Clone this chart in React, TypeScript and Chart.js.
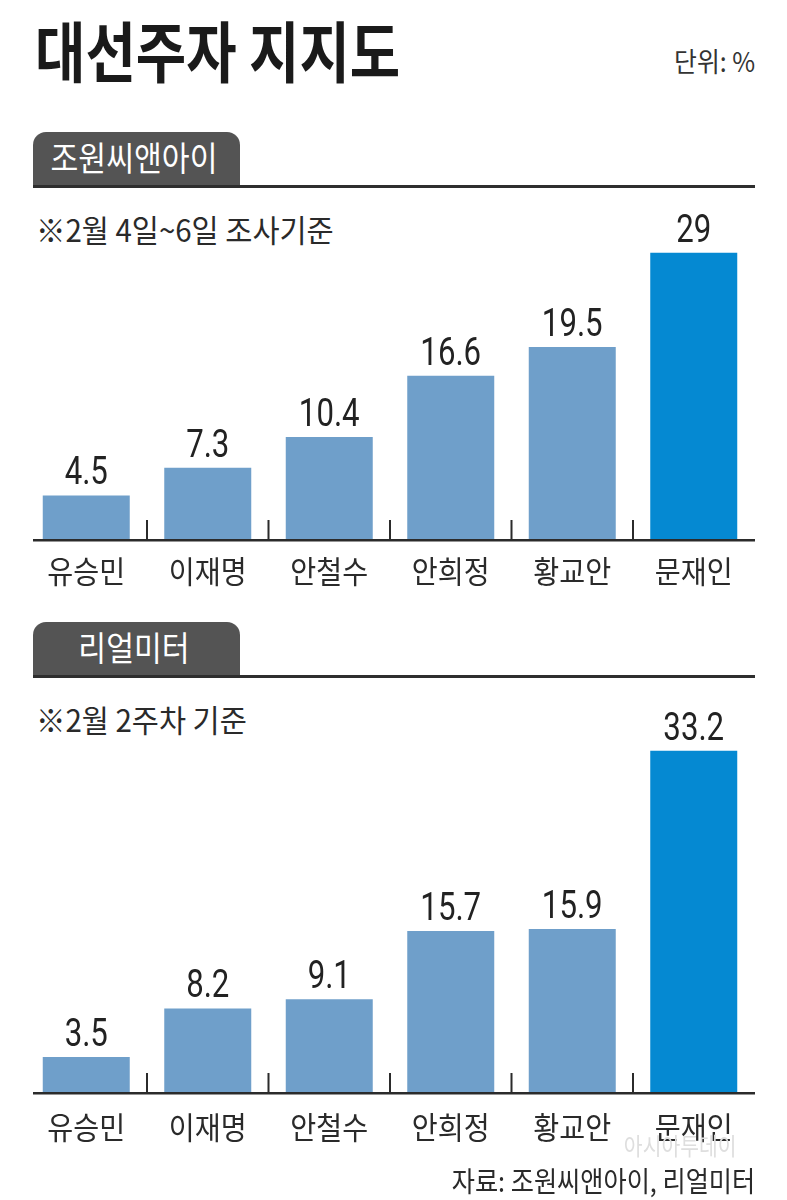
import React, { useEffect, useRef } from 'react';
import { Chart, registerables } from 'chart.js';

Chart.register(...registerables);

const candidates = ['유승민', '이재명', '안철수', '안희정', '황교안', '문재인'];
const wonValues = [4.5, 7.3, 10.4, 16.6, 19.5, 29];
const realValues = [3.5, 8.2, 9.1, 15.7, 15.9, 33.2];
const valueLabels1 = ['4.5', '7.3', '10.4', '16.6', '19.5', '29'];
const valueLabels2 = ['3.5', '8.2', '9.1', '15.7', '15.9', '33.2'];
const barColors = ['#6f9fca', '#6f9fca', '#6f9fca', '#6f9fca', '#6f9fca', '#0589d2'];

const KR = '"Noto Sans CJK KR", "Noto Sans", sans-serif';
const NUM = 'Roboto, "Liberation Sans", sans-serif';

type PanelProps = {
  values: number[];
  labels: string[];
  top: number;
  height: number;
  yMax: number;
  padTop: number;
  padBottom: number;
  catOffset: number;
};

function BarPanel({ values, labels, top, height, yMax, padTop, padBottom, catOffset }: PanelProps) {
  const ref = useRef<HTMLCanvasElement | null>(null);
  useEffect(() => {
    if (!ref.current) return;
    const overlay = {
      id: 'overlay',
      afterDatasetsDraw(chart: any) {
        const ctx = chart.ctx as CanvasRenderingContext2D;
        const xs = chart.scales.x;
        const area = chart.chartArea;
        const meta = chart.getDatasetMeta(0);
        ctx.save();
        // axis line
        ctx.fillStyle = '#2b2b2b';
        ctx.fillRect(33, area.bottom - 1, 755 - 33, 2.5);
        // tick marks between categories
        for (let i = 0; i < candidates.length - 1; i++) {
          const x = (xs.getPixelForValue(i) + xs.getPixelForValue(i + 1)) / 2;
          ctx.fillRect(x - 1, area.bottom - 20, 2, 20);
        }
        // value labels
        ctx.fillStyle = '#222';
        ctx.textAlign = 'center';
        ctx.textBaseline = 'alphabetic';
        ctx.font = `38px ${NUM}`;
        meta.data.forEach((bar: any, i: number) => {
          ctx.save();
          ctx.translate(bar.x, bar.y - 11);
          ctx.scale(0.82, 1);
          ctx.fillText(labels[i], 0, 0);
          ctx.restore();
        });
        // category labels
        ctx.fillStyle = '#2a2a2a';
        ctx.textBaseline = 'middle';
        ctx.font = `31px ${KR}`;
        candidates.forEach((c, i) => {
          const x = xs.getPixelForValue(i);
          ctx.save();
          ctx.translate(x, area.bottom + catOffset);
          ctx.scale(0.91, 1);
          ctx.fillText(c, 0, 0);
          ctx.restore();
        });
        ctx.restore();
      },
    };
    const chart = new Chart(ref.current, {
      type: 'bar',
      data: {
        labels: candidates,
        datasets: [
          {
            data: values,
            backgroundColor: barColors,
            borderWidth: 0,
            barPercentage: 0.716,
            categoryPercentage: 1,
          },
        ],
      },
      options: {
        responsive: false,
        animation: false,
        devicePixelRatio: 1,
        layout: { padding: { left: 25.5, right: 32.5, top: padTop, bottom: padBottom } },
        plugins: { legend: { display: false }, tooltip: { enabled: false } },
        scales: {
          x: { display: false },
          y: { display: false, min: 0, max: yMax },
        },
      },
      plugins: [overlay],
    });
    return () => chart.destroy();
  }, []);
  return (
    <canvas
      ref={ref}
      width={787}
      height={height}
      style={{ position: 'absolute', left: 0, top, width: 787, height }}
    />
  );
}

type TProps = {
  x: number;
  y: number;
  size: number;
  sx?: number;
  weight?: number;
  color?: string;
  align?: 'left' | 'right' | 'center';
  children: React.ReactNode;
};

function T({ x, y, size, sx = 1, weight = 400, color = '#222', align = 'left', children }: TProps) {
  const style: React.CSSProperties = {
    position: 'absolute',
    top: y - size * 0.55,
    fontFamily: KR,
    fontSize: size,
    lineHeight: `${size}px`,
    fontWeight: weight,
    color,
    whiteSpace: 'nowrap',
    transform: `scaleX(${sx})`,
  };
  if (align === 'left') {
    style.left = x;
    style.transformOrigin = 'left center';
  } else if (align === 'right') {
    style.right = 787 - x;
    style.transformOrigin = 'right center';
  } else {
    style.left = x;
    style.transformOrigin = 'center center';
    style.transform = `translateX(-50%) scaleX(${sx})`;
  }
  return <div style={style}>{children}</div>;
}

function Tab({ top, label }: { top: number; label: string }) {
  return (
    <>
      <div
        style={{
          position: 'absolute',
          left: 33,
          top,
          width: 207,
          height: 55,
          background: '#545454',
          borderRadius: '13px 13px 0 0',
        }}
      />
      <div
        style={{ position: 'absolute', left: 33, top: top + 53, width: 722, height: 3, background: '#2e2e2e' }}
      />
      <T x={134} y={top + 27} size={34} sx={0.89} color="#fff" align="center">
        {label}
      </T>
    </>
  );
}

export default function App() {
  return (
    <div
      style={{
        position: 'absolute',
        left: 0,
        top: 0,
        width: 787,
        height: 1200,
        overflow: 'hidden',
        background: '#fff',
      }}
    >
      <T x={35} y={51} size={66} weight={700} sx={0.83} color="#1a1a1a">
        대선주자 지지도
      </T>
      <T x={755} y={62} size={27} sx={0.92} color="#333" align="right">
        단위: %
      </T>

      <Tab top={132} label="조원씨앤아이" />
      <T x={36} y={230} size={31} sx={0.95} color="#2a2a2a">
        ※2월 4일~6일 조사기준
      </T>
      <BarPanel
        values={wonValues}
        labels={valueLabels1}
        top={200}
        height={400}
        yMax={30.3}
        padTop={40}
        padBottom={60}
        catOffset={31}
      />

      <Tab top={622} label="리얼미터" />
      <T x={36} y={720} size={31} sx={0.95} color="#2a2a2a">
        ※2월 2주차 기준
      </T>
      <BarPanel
        values={realValues}
        labels={valueLabels2}
        top={690}
        height={470}
        yMax={35.2}
        padTop={40}
        padBottom={67}
        catOffset={34}
      />

      <T x={736} y={1146} size={24} sx={0.85} color="#dedede" align="right">
        아시아투데이
      </T>
      <T x={755} y={1181} size={28} sx={0.9} color="#2a2a2a" align="right">
        자료: 조원씨앤아이, 리얼미터
      </T>
    </div>
  );
}
